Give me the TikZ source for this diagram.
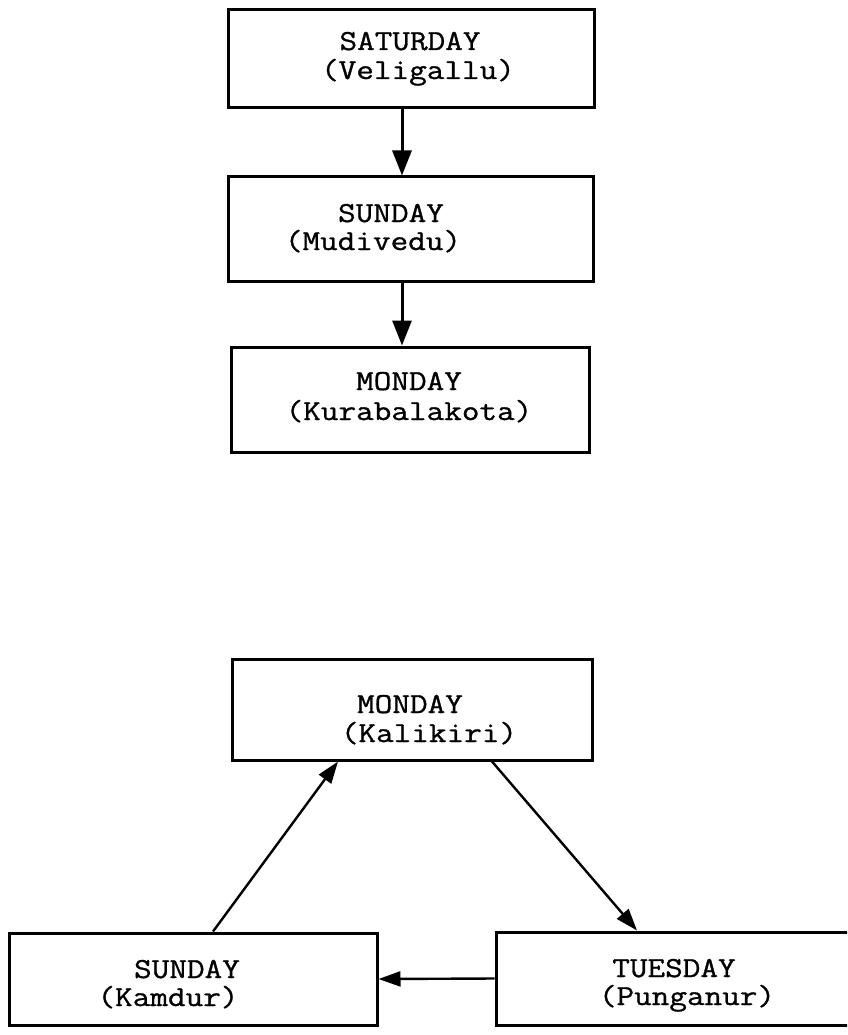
\documentclass[tikz,border=0pt]{standalone}
\usepackage{fontspec}
\newfontfamily\tw[FakeStretch=1.18,FakeBold=1]{Latin Modern Mono}
\usetikzlibrary{arrows.meta}
\begin{document}
\begin{tikzpicture}[x=1pt,y=-1pt,
  box/.style={draw, line width=3pt, inner sep=0pt},
  lbl/.style={anchor=base, inner sep=0pt, font=\tw\fontsize{29}{30}\selectfont},
  arrT/.style={line width=3pt, -{Triangle[length=25pt,width=19pt]}},
  arrB/.style={line width=2.4pt, -{Triangle[length=22pt,width=15pt]}}]
\useasboundingbox (0,0) rectangle (847,1035);
\clip (0,0) rectangle (847,1035);
% boxes
\node[box, minimum width=366pt, minimum height=98pt] (sat) at (411,59) {};
\node[box, minimum width=365pt, minimum height=104pt] (sun1) at (410.5,229) {};
\node[box, minimum width=358pt, minimum height=105pt] (mon1) at (410,399.5) {};
\node[box, minimum width=360pt, minimum height=101pt] (mon2) at (412,709.5) {};
\node[box, minimum width=368pt, minimum height=92pt] (sun2) at (193,979) {};
\node[box, minimum width=361pt, minimum height=93pt] (tue) at (676.5,978.5) {};
% texts
\node[lbl] (satA) at (410,50) {SATURDAY};
\node[lbl] (satB) at (418,79) {(Veligallu)};
\node[lbl] (sun1A) at (391,222) {SUNDAY};
\node[lbl] (sun1B) at (373,250) {(Mudivedu)};
\node[lbl] (mon1A) at (409,390) {MONDAY};
\node[lbl] (mon1B) at (409,420) {(Kurabalakota)};
\node[lbl] (mon2A) at (410,713) {MONDAY};
\node[lbl] (mon2B) at (429,742) {(Kalikiri)};
\node[lbl] (sun2A) at (187,978) {SUNDAY};
\node[lbl] (sun2B) at (168,1006) {(Kamdur)};
\node[lbl] (tueA) at (674,977) {TUESDAY};
\node[lbl] (tueB) at (687,1005) {(Punganur)};
% connectors
\draw[arrT] ([xshift=-9pt]sat.south) -- ([xshift=-8.5pt]sun1.north);
\draw[arrT] ([xshift=-8.5pt]sun1.south) -- ([xshift=-8pt]mon1.north);
\draw[arrB] ([xshift=20pt]sun2.north) -- ([xshift=-74pt]mon2.south);
\draw[arrB] ([xshift=80pt]mon2.south) -- ([xshift=-39.5pt]tue.north);
\draw[arrB] (tue.west) -- (sun2.east);
\end{tikzpicture}
\end{document}
